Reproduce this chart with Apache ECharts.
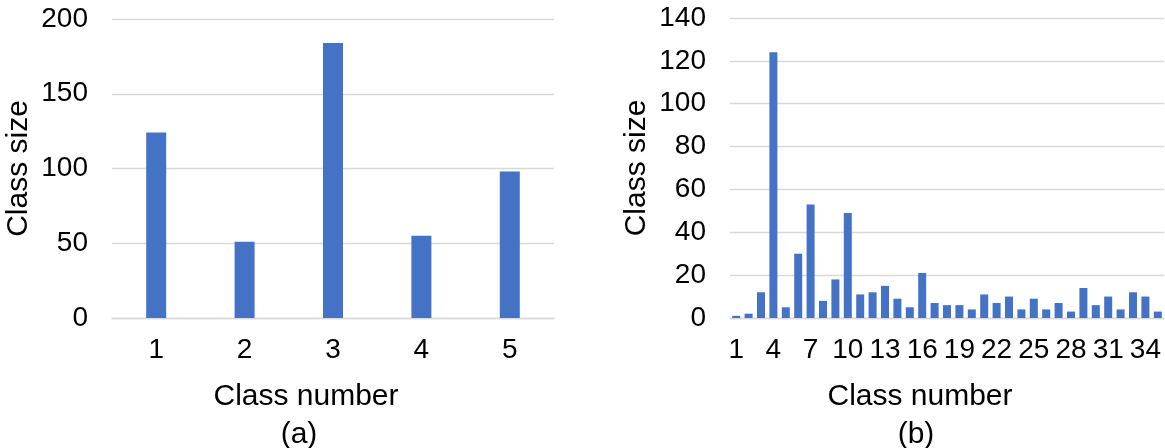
<!DOCTYPE html>
<html>
<head>
<meta charset="utf-8">
<script src="https://cdn.jsdelivr.net/npm/echarts@6/dist/echarts.min.js"></script>
<style>
  html, body { margin: 0; padding: 0; background: #fff; }
  #chart { width: 1165px; height: 448px; }
</style>
</head>
<body>
<div id="chart"></div>
<script>
// Panel (a): five classes
const classesA = ['1', '2', '3', '4', '5'];
const sizesA = [124, 51, 184, 55, 98];
const ticksA = { min: 0, max: 200, interval: 50 };

// Panel (b): thirty-five classes
const classesB = ['1', '2', '3', '4', '5', '6', '7', '8', '9', '10',
  '11', '12', '13', '14', '15', '16', '17', '18', '19', '20',
  '21', '22', '23', '24', '25', '26', '27', '28', '29', '30',
  '31', '32', '33', '34', '35'];
const sizesB = [1, 2, 12, 124, 5, 30, 53, 8, 18, 49,
  11, 12, 15, 9, 5, 21, 7, 6, 6, 4,
  11, 7, 10, 4, 9, 4, 7, 3, 14, 6,
  10, 4, 12, 10, 3];
const ticksB = { min: 0, max: 140, interval: 20 };

const FONT = '"Liberation Sans", Arial, sans-serif';
const INK = '#000000';
const GRID_GRAY = '#d9d9d9';
const BAR_BLUE = '#4472c4';

function xAxisFor(gridIndex, cats, labelInterval) {
  return {
    type: 'category',
    gridIndex: gridIndex,
    data: cats,
    name: 'Class number',
    nameLocation: 'middle',
    nameGap: 64,
    nameTextStyle: { fontFamily: FONT, fontSize: 30, color: INK, padding: [0, 54, 0, 0] },
    axisLine: { show: true, lineStyle: { color: GRID_GRAY, width: 1.3 } },
    axisTick: { show: false },
    axisLabel: { interval: labelInterval, margin: 18, fontFamily: FONT, fontSize: 28, color: INK }
  };
}

function yAxisFor(gridIndex, t) {
  return {
    type: 'value',
    gridIndex: gridIndex,
    min: t.min,
    max: t.max,
    interval: t.interval,
    name: 'Class size',
    nameLocation: 'middle',
    nameGap: 78,
    nameTextStyle: { fontFamily: FONT, fontSize: 30, color: INK },
    axisLine: { show: false },
    axisTick: { show: false },
    axisLabel: { margin: 24, fontFamily: FONT, fontSize: 28, color: INK },
    splitLine: { show: true, lineStyle: { color: GRID_GRAY, width: 1.3 } }
  };
}

const chart = echarts.init(document.getElementById('chart'), null, { renderer: 'canvas' });

chart.setOption({
  animation: false,
  backgroundColor: '#ffffff',
  grid: [
    { left: 112, right: 611, top: 19, bottom: 130 },
    { left: 730, right: 1, top: 18, bottom: 130 }
  ],
  xAxis: [xAxisFor(0, classesA, 0), xAxisFor(1, classesB, 2)],
  yAxis: [yAxisFor(0, ticksA), yAxisFor(1, ticksB)],
  series: [
    { type: 'bar', xAxisIndex: 0, yAxisIndex: 0, data: sizesA, barWidth: 20,
      itemStyle: { color: BAR_BLUE } },
    { type: 'bar', xAxisIndex: 1, yAxisIndex: 1, data: sizesB, barWidth: 8,
      itemStyle: { color: BAR_BLUE } }
  ],
  graphic: [
    { type: 'text', x: 299, y: 435,
      style: { text: '(a)', fontFamily: FONT, fontSize: 30, fill: INK, textAlign: 'center', textVerticalAlign: 'middle' } },
    { type: 'text', x: 916, y: 435,
      style: { text: '(b)', fontFamily: FONT, fontSize: 30, fill: INK, textAlign: 'center', textVerticalAlign: 'middle' } }
  ]
});
</script>
</body>
</html>
